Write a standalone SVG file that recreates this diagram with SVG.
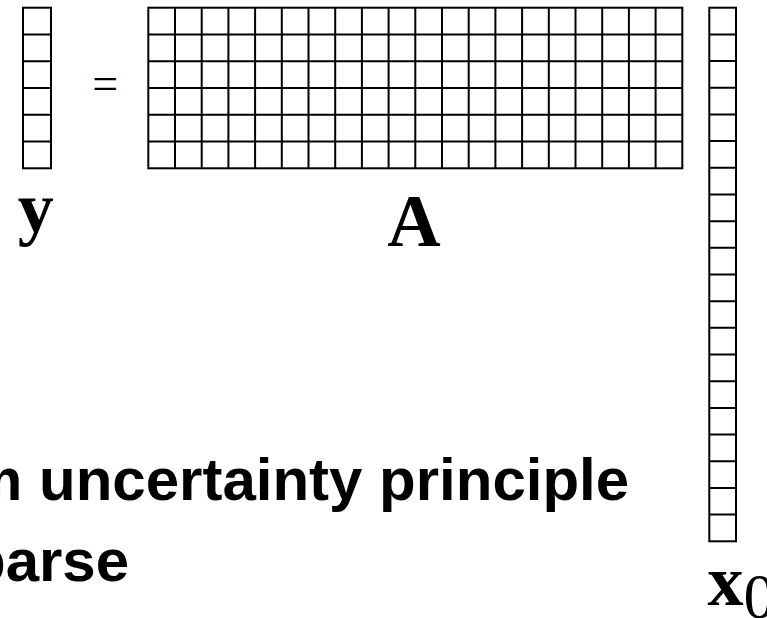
<svg xmlns="http://www.w3.org/2000/svg" width="767" height="618" viewBox="0 0 767 618">
<style>
.grid{fill:none;stroke:#000;stroke-width:2}
.lbl{font-family:"Liberation Serif","Times New Roman",serif;font-weight:bold;fill:#000}
.cap{font-family:"Liberation Sans",Arial,sans-serif;font-weight:bold;font-size:60px;fill:#000}
</style>
<rect width="767" height="618" fill="#fff"/>
<g id="vector-y">
<rect class="grid" x="23" y="7.7" width="28" height="160.6"/>
<path class="grid" d="M23 34.47H51M23 61.23H51M23 88H51M23 114.77H51M23 141.53H51"/>
<text class="lbl" x="35.7" y="232" font-size="72" text-anchor="middle">y</text>
</g>
<g id="equals">
<text x="105.3" y="99" font-family="Liberation Serif, serif" font-size="46" text-anchor="middle" fill="#000">=</text>
</g>
<g id="matrix-A">
<rect class="grid" x="148.3" y="7.7" width="534" height="160.6"/>
<path class="grid" d="M148.3 34.47H682.3M148.3 61.23H682.3M148.3 88H682.3M148.3 114.77H682.3M148.3 141.53H682.3M175 7.7V168.3M201.7 7.7V168.3M228.4 7.7V168.3M255.1 7.7V168.3M281.8 7.7V168.3M308.5 7.7V168.3M335.2 7.7V168.3M361.9 7.7V168.3M388.6 7.7V168.3M415.3 7.7V168.3M442 7.7V168.3M468.7 7.7V168.3M495.4 7.7V168.3M522.1 7.7V168.3M548.8 7.7V168.3M575.5 7.7V168.3M602.2 7.7V168.3M628.9 7.7V168.3M655.6 7.7V168.3"/>
<text class="lbl" x="414" y="246" font-size="74" text-anchor="middle">A</text>
</g>
<g id="vector-x0">
<rect class="grid" x="709.3" y="7.7" width="26.7" height="533.6"/>
<path class="grid" d="M709.3 34.38H736M709.3 61.06H736M709.3 87.74H736M709.3 114.42H736M709.3 141.1H736M709.3 167.78H736M709.3 194.46H736M709.3 221.14H736M709.3 247.82H736M709.3 274.5H736M709.3 301.18H736M709.3 327.86H736M709.3 354.54H736M709.3 381.22H736M709.3 407.9H736M709.3 434.58H736M709.3 461.26H736M709.3 487.94H736M709.3 514.62H736"/>
<text class="lbl" x="707.5" y="605" font-size="72">x<tspan font-weight="normal" font-size="64" dy="13">0</tspan></text>
</g>
<g id="caption">
<text class="cap" x="-31" y="500">m uncertainty principle</text>
<text class="cap" x="-31" y="581">parse</text>
</g>
</svg>
